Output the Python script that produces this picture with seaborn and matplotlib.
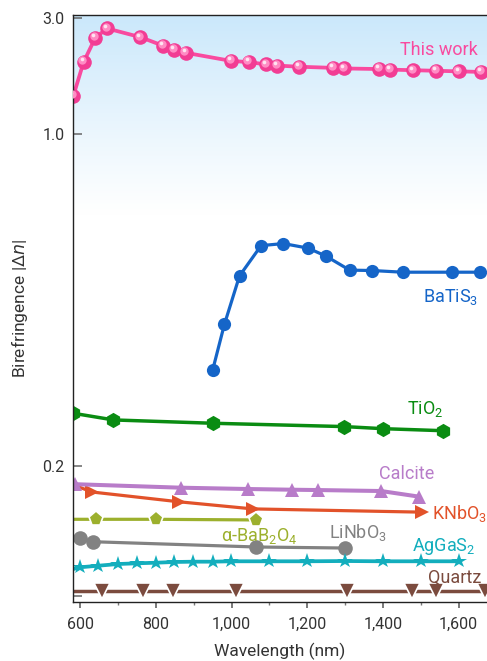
import numpy as np
import pandas as pd
import matplotlib
matplotlib.use("Agg")
import matplotlib.pyplot as plt
import matplotlib.transforms as mtransforms
import seaborn as sns

# ---- data: wavelength (nm) and birefringence |Δn| ----
this_work_wl = [582, 609, 640, 671, 759, 820, 849, 879, 999, 1045, 1091, 1120,
                1178, 1269, 1298, 1390, 1419, 1479, 1540, 1600, 1659]
this_work_dn = [1.66, 2.24, 2.66, 2.82, 2.67, 2.52, 2.45, 2.40, 2.26, 2.24, 2.20,
                2.18, 2.16, 2.14, 2.13, 2.12, 2.11, 2.10, 2.09, 2.08, 2.07]

batis3_wl = [950, 981, 1021, 1078, 1137, 1202, 1249, 1312, 1372, 1452, 1582, 1657]
batis3_dn = [0.431, 0.541, 0.658, 0.731, 0.736, 0.725, 0.706, 0.672, 0.671,
             0.667, 0.667, 0.667]

tio2_wl = [582, 688, 950, 1297, 1399, 1560]
tio2_dn = [0.327, 0.311, 0.303, 0.295, 0.290, 0.285]

calcite_wl = [587, 867, 1043, 1161, 1228, 1395, 1496]
calcite_dn = [0.172, 0.1666, 0.1646, 0.1635, 0.163, 0.1615, 0.1528]

knbo3_wl = [582, 631, 860, 1056, 1503]
knbo3_dn = [0.171, 0.160, 0.145, 0.134, 0.129]

bbo_wl = [582, 642, 800, 1065]
bbo_dn = [0.118, 0.118, 0.118, 0.117]

linbo3_wl = [600, 633, 1065, 1300]
linbo3_dn = [0.0888, 0.0835, 0.0754, 0.0738]

aggas2_wl = [582, 600, 648, 700, 750, 800, 849, 899, 950, 999, 1099, 1199,
             1300, 1399, 1500, 1600]
aggas2_dn = [0.0415, 0.0442, 0.0466, 0.0492, 0.0503, 0.0512, 0.0523, 0.0528,
             0.0528, 0.0534, 0.0534, 0.0534, 0.0538, 0.0534, 0.0534, 0.0534]

quartz_wl = [582, 657, 767, 844, 1011, 1305, 1478, 1540, 1670]
quartz_dn = [0.0082] * 9

y_ticks = [0.0, 0.2, 1.0, 3.0]
y_ticklabels = ["", "0.2", "1.0", "3.0"]
x_ticks = [600, 800, 1000, 1200, 1400, 1600]
x_ticklabels = ["600", "800", "1,000", "1,200", "1,400", "1,600"]

# ---- compressed piecewise-linear y axis ----
_val = np.array([-1.0, 0.0, 0.2, 1.0, 3.0, 10.0])
_pos = np.array([-650.0, 0.0, 130.0, 462.0, 578.0, 578.0 + 7 * 58.0])


def fwd(v):
    return np.interp(v, _val, _pos)


def inv(p):
    return np.interp(p, _pos, _val)


sns.set_theme(style="white")
plt.rcParams["font.family"] = ["Roboto", "DejaVu Sans"]
plt.rcParams["mathtext.default"] = "regular"

W, H = 487, 661
fig = plt.figure(figsize=(W / 100, H / 100), dpi=100)
rect = [73 / W, (H - 602) / H, (487 - 73) / W, (602 - 15) / H]

# background gradient panel
bg = fig.add_axes(rect, zorder=0)
t = np.linspace(0, 1, 400)[:, None]           # 0 at top
top_col = np.array([0.795, 0.91, 0.985])
w = np.clip(1 - t / 0.34, 0, 1) ** 1.1
img = np.ones((400, 2, 3)) * (1 - w[..., None]) + top_col * w[..., None]
bg.imshow(img, extent=[0, 1, 0, 1], aspect="auto", origin="upper")
bg.set_axis_off()

ax = fig.add_axes(rect, zorder=1)
ax.patch.set_alpha(0)
ax.set_yscale("function", functions=(fwd, inv))
ax.set_xlim(581, 1675)
ax.set_ylim(-6 / 650, 3 + 3 / 58)

# (x, y, colour, marker, size, line width, edge colour, first point marked)
series = [
    (knbo3_wl, knbo3_dn, "#e2522a", ">", 10.0, 2.3, "none", False),
    (calcite_wl, calcite_dn, "#b87cc9", "^", 10.0, 2.9, "none", True),
    (bbo_wl, bbo_dn, "#9cb02d", "p", 11.0, 2.3, "white", False),
    (linbo3_wl, linbo3_dn, "#828282", "o", 10.5, 2.3, "none", True),
    (aggas2_wl, aggas2_dn, "#13aebd", "*", 11.5, 2.7, "none", False),
    (quartz_wl, quartz_dn, "#7b4b3e", "v", 11.0, 2.5, "white", False),
    (tio2_wl, tio2_dn, "#0a8c12", "h", 11.0, 2.5, "none", True),
    (batis3_wl, batis3_dn, "#1565c8", "o", 9.5, 2.3, "none", True),
]
for wl, dn, col, mk, ms, lw, mec, first in series:
    df = pd.DataFrame({"wl": wl, "dn": dn})
    me = None if first else list(range(1, len(wl)))
    sns.lineplot(data=df, x="wl", y="dn", ax=ax, color=col, linewidth=lw,
                 marker=mk, markersize=ms, markeredgecolor=mec,
                 markeredgewidth=1.2 if mec == "white" else 0,
                 markerfacecolor=col, markevery=me)

# this work: glossy pink spheres
pink = "#f94a9f"
df = pd.DataFrame({"wl": this_work_wl, "dn": this_work_dn})
sns.lineplot(data=df, x="wl", y="dn", ax=ax, color=pink, linewidth=2.7,
             marker="o", markersize=10.5, markeredgewidth=0, markerfacecolor="#f23d94")
shine = mtransforms.offset_copy(ax.transData, fig=fig, x=-1.3, y=1.6, units="dots")
ax.plot(this_work_wl, this_work_dn, linestyle="none", marker="o", markersize=6.0,
        markerfacecolor="#ff8cc4", markeredgewidth=0, transform=shine, zorder=3)
shine2 = mtransforms.offset_copy(ax.transData, fig=fig, x=-2.0, y=2.6, units="dots")
ax.plot(this_work_wl, this_work_dn, linestyle="none", marker="o", markersize=2.6,
        markerfacecolor="#ffe4f1", markeredgewidth=0, transform=shine2, zorder=3)

# axes styling
for s in ("left", "top", "bottom"):
    ax.spines[s].set_color("#222222")
    ax.spines[s].set_linewidth(1.0)
ax.spines["right"].set_visible(False)

ax.set_yticks(y_ticks)
ax.set_yticklabels(y_ticklabels)
ax.yaxis.set_minor_locator(matplotlib.ticker.NullLocator())
ax.set_xticks(x_ticks)
ax.set_xticklabels(x_ticklabels)
ax.set_xticks([700, 900, 1100, 1300, 1500], minor=True)
ax.tick_params(axis="y", direction="in", length=6.5, width=1.1, color="#666666",
               labelsize=11.5, labelcolor="#333333", pad=6, left=True)
ax.tick_params(axis="x", which="major", direction="out", length=4.5, width=1.1,
               color="#555555", labelsize=11.5, labelcolor="#333333", pad=6, bottom=True)
ax.tick_params(axis="x", which="minor", direction="out", length=2.5, width=1.0,
               color="#777777", bottom=True)
ax.set_xlabel("Wavelength (nm)", fontsize=12.5, color="#333333", labelpad=8)
ax.set_ylabel(r"Birefringence |$\Delta\mathit{n}$|", fontsize=12.5, color="#333333",
              labelpad=9)

# series labels
fs = 13
lab = dict(transform=ax.transAxes, fontsize=fs, va="center")
ax.text(0.884, 0.940, "This work", color=pink, ha="center", **lab)
ax.text(0.911, 0.519, r"BaTiS$_3$", color="#1565c8", ha="center", **lab)
ax.text(0.850, 0.329, r"TiO$_2$", color="#0a8c12", ha="center", **lab)
ax.text(0.807, 0.218, "Calcite", color="#b87cc9", ha="center", **lab)
ax.text(0.867, 0.150, r"KNbO$_3$", color="#e2522a", ha="left", **lab)
ax.text(0.449, 0.112, r"α-BaB$_2$O$_4$", color="#9cb02d", ha="center", **lab)
ax.text(0.688, 0.118, r"LiNbO$_3$", color="#828282", ha="center", **lab)
ax.text(0.896, 0.094, r"AgGaS$_2$", color="#13aebd", ha="center", **lab)
ax.text(0.857, 0.041, "Quartz", color="#7b4b3e", ha="left", **lab)

fig.savefig("out.png", dpi=100)
